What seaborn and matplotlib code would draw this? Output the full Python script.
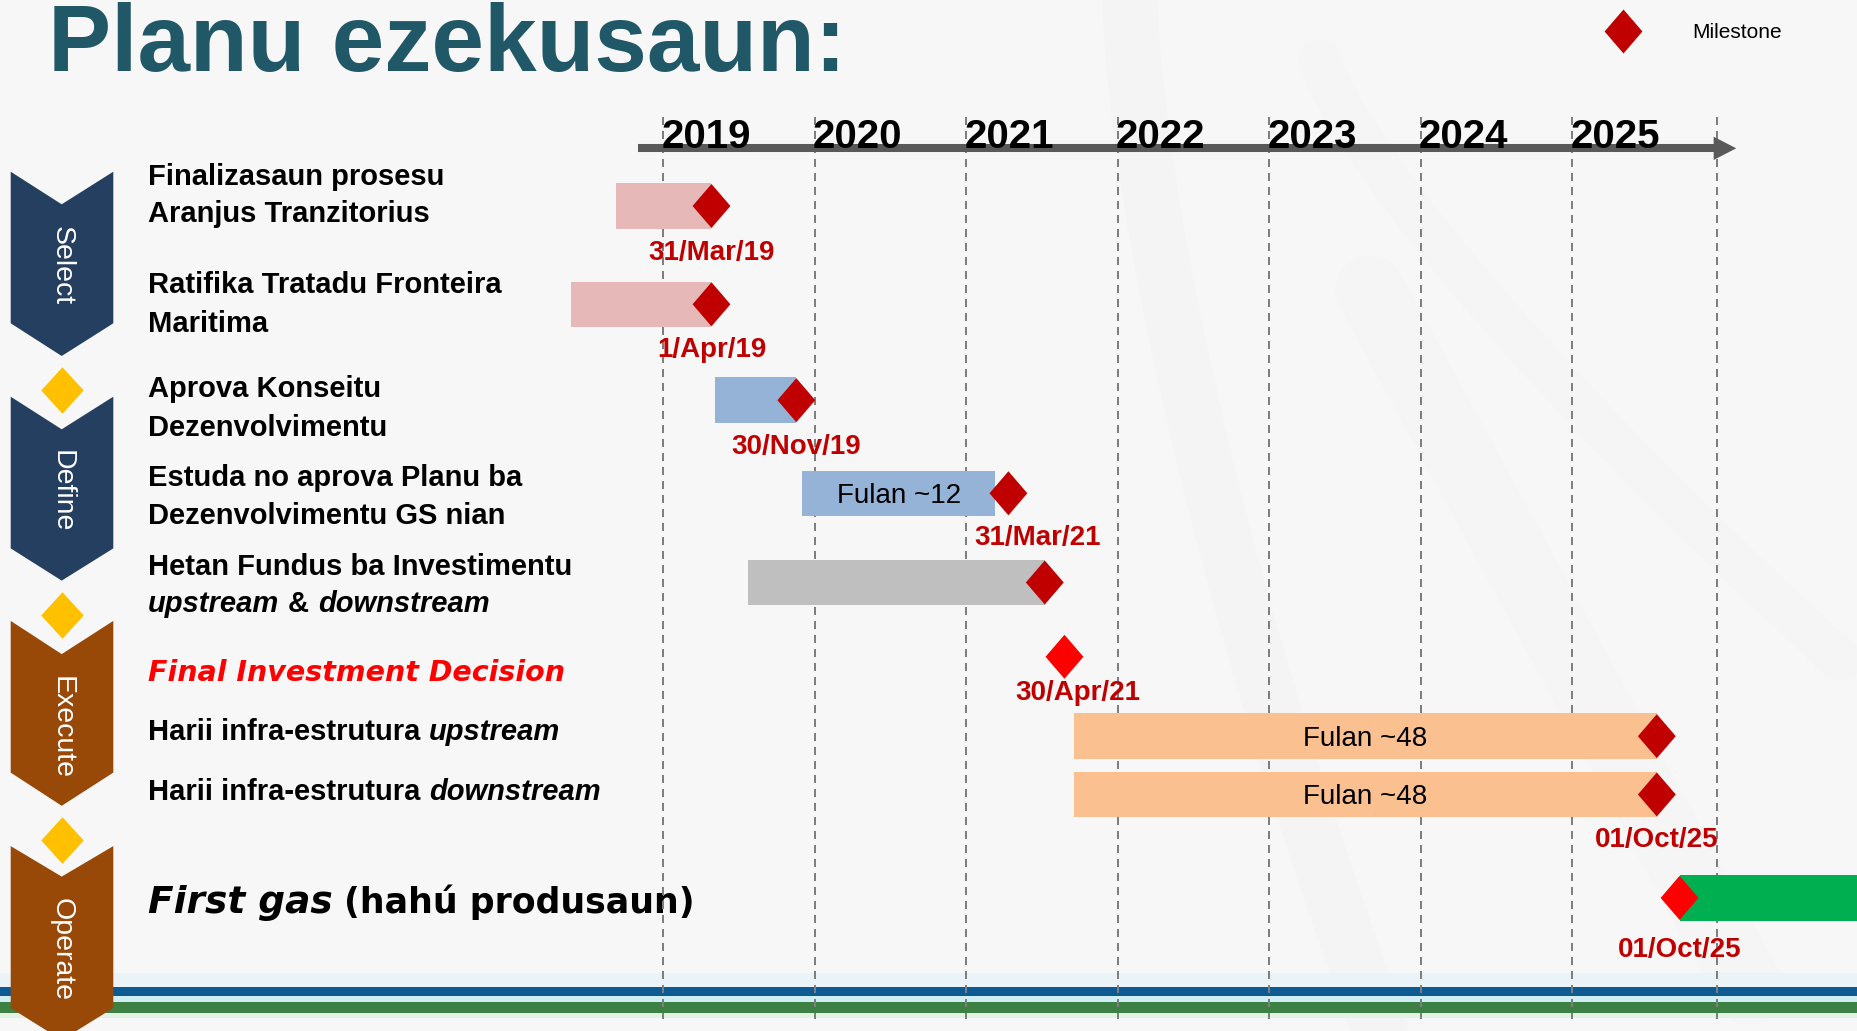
import numpy as np
import pandas as pd
import matplotlib
matplotlib.use("Agg")
import matplotlib.pyplot as plt
import seaborn as sns
from matplotlib.path import Path
from matplotlib.patches import Polygon, Rectangle


# Style and fonts
sns.set_theme(style="white")
plt.rcParams['font.family'] = ['Liberation Sans', 'DejaVu Sans']


# ---- data ----
title = "Planu ezekusaun:"
years = [2019, 2020, 2021, 2022, 2023, 2024, 2025]
timeline_end = 2025.955

phases = ["Select", "Define", "Execute", "Operate"]

task_start = [2018.69, 2018.39, 2019.34, 2019.92, 2019.56, np.nan, 2021.71, 2021.71, 2025.71]
task_end = [2019.32, 2019.32, 2019.88, 2021.19, 2021.52, np.nan, 2025.56, 2025.56, 2027.0]
milestone = [2019.32, 2019.32, 2019.88, 2021.28, 2021.52, 2021.65, 2025.56, 2025.56, 2025.71]
milestone_kind = ["Milestone"] * 5 + ["Key"] + ["Milestone"] * 2 + ["Key"]
bar_text = ["", "", "", "Fulan ~12", "", "", "Fulan ~48", "Fulan ~48", ""]
date_text = ["31/Mar/19", "1/Apr/19", "30/Nov/19", "31/Mar/21", "",
             "30/Apr/21", "", "01/Oct/25", "01/Oct/25"]

# task labels: lines of (text, style) pieces
B, BI, HI = "b", "bi", "hi"
task_lines = [
    [("Finalizasaun prosesu", B)],
    [("Aranjus Tranzitorius", B)],
    [("Ratifika Tratadu Fronteira", B)],
    [("Maritima", B)],
    [("Aprova Konseitu", B)],
    [("Dezenvolvimentu", B)],
    [("Estuda no aprova Planu ba", B)],
    [("Dezenvolvimentu GS nian", B)],
    [("Hetan Fundus ba Investimentu", B)],
    [("upstream", BI), ("&", B), ("downstream", BI)],
    [("Final Investment Decision", "fid")],
    [("Harii infra-estrutura", B), ("upstream", BI)],
    [("Harii infra-estrutura", B), ("downstream", BI)],
    [("First gas", HI), ("(hahú produsaun)", "big")],
]


# ---- layout (pixels of the 1857x1031 slide) ----
W, H = 1857, 1031
row_y = [206, 304.3, 400.2, 493.3, 582.5, 656.8, 736.2, 794.5, 897.9]
date_y = [260, 357, 454, 545, None, 700.5, None, 847, 957]
date_dx = [0, 0, 0, 0.19, 0, 0.09, 0, 0, 0]
line_y = [185, 221.7, 293.3, 331.7, 397.3, 435.7, 486, 524.4, 575.2, 611.5,
          681.2, 740.4, 799.7, 913.3]
task_colors = ["#E6B9B8", "#E6B9B8", "#95B3D7", "#95B3D7", "#BFBFBF", "none",
               "#FAC090", "#FAC090", "#00B050"]
# chevron: top corners, notch, side end, tip, text centre
chevrons = [(171.7, 204.3, 323.3, 356, 265.5),
            (396.7, 429.3, 548.4, 580.6, 491),
            (620.9, 654.1, 772.6, 805.8, 727.6),
            (846.1, 876.6, 1008, 1040, 949.5)]
phase_colors = ["#243F60", "#243F60", "#984807", "#984807"]
gate_y = [390, 615, 839.8]

px_per_year = 151.5
x0_year = 2019 - 663 / px_per_year
x1_year = x0_year + W / px_per_year

fig = plt.figure(figsize=(W / 100, H / 100), dpi=100, facecolor="#F7F7F7")

# decoration axes in pixel units
deco = fig.add_axes([0, 0, 1, 1])
deco.set_xlim(0, W)
deco.set_ylim(H, 0)
deco.set_axis_off()
deco.set_facecolor("#F7F7F7")

# faint background swooshes
tt = np.linspace(0, 1, 100)
deco.plot(1130 + 250 * tt ** 1.5, 0 + 1031 * tt, color="#F3F3F3", lw=40, alpha=0.5, zorder=0)
deco.plot(1320 + 520 * tt, 60 + 600 * tt ** 0.8, color="#F3F3F3", lw=30, alpha=0.4, zorder=0)
deco.plot(1370 + 380 * tt, 290 + 700 * tt, color="#F4F4F4", lw=50, alpha=0.4, zorder=0)

# bottom stripes
for y0, y1, c in [(973, 987, "#EAF4F8"), (987, 996, "#0E5A92"), (996, 1002, "#CFEFF5"),
                  (1002, 1013, "#3D8043"), (1013, 1018, "#E3F2E3")]:
    deco.add_patch(Rectangle((0, y0), W, y1 - y0, color=c, lw=0, zorder=1))

# title
deco.text(48, 71, title, fontsize=68, fontweight="bold", color="#215868",
          va="baseline", ha="left", zorder=3)

# phase chevrons
for (top, notch, side, tip, cy), name, c in zip(chevrons, phases, phase_colors):
    verts = [(10.7, top), (61.7, notch), (113.3, top), (113.3, side),
             (61.7, tip), (10.7, side)]
    deco.add_patch(Polygon(verts, closed=True, color=c, lw=0, zorder=3))
    deco.text(62, cy, name, rotation=270, ha="center", va="center",
              color="white", fontsize=20.5, zorder=4)

gate = Path([(0, 1), (0.914, 0), (0, -1), (-0.914, 0), (0, 1)])
deco.scatter([62] * len(gate_y), gate_y, marker=gate, s=1122, color="#FFC000",
             lw=0, zorder=4)

# task label text
renderer = fig.canvas.get_renderer()
styles = {
    "b": dict(fontsize=21, fontweight="bold"),
    "bi": dict(fontsize=21, fontweight="bold", fontstyle="italic"),
    "fid": dict(fontsize=20.5, fontweight="bold", fontstyle="italic",
                family=["DejaVu Sans"], color="#FF0000"),
    "hi": dict(fontsize=27, fontweight="bold", fontstyle="italic", family=["DejaVu Sans"]),
    "big": dict(fontsize=25, fontweight="bold", family=["DejaVu Sans"]),
}
for pieces, y in zip(task_lines, line_y):
    x = 148
    for s, st in pieces:
        kw = dict(color="black")
        kw.update(styles[st])
        t = deco.text(x, y, s, va="baseline", ha="left", zorder=3, **kw)
        bb = t.get_window_extent(renderer=renderer)
        x = bb.x1 + 0.3 * kw["fontsize"] * 100 / 72

# milestone legend
milestone_mark = Path([(0, 1), (0.86, 0), (0, -1), (-0.86, 0), (0, 1)])
deco.scatter([1622.6], [30.5], marker=milestone_mark, s=1005, color="#C00000", lw=0, zorder=4)
deco.text(1692, 38.3, "Milestone", fontsize=15, color="black", va="baseline", zorder=4)


# ---- gantt axes (x in years) ----
ax = fig.add_axes([0, 0, 1, 1])
ax.patch.set_alpha(0)

grid_x = years + [timeline_end]
ax.vlines(grid_x, 117, 1019, colors="#7F7F7F", linestyles=(0, (4, 3)), lw=1.44, zorder=1)

# timeline arrow
head0 = timeline_end - 0.02
ax.plot([2018.832, head0], [148.3, 148.3], color="#595959", lw=5.8,
        solid_capstyle="butt", zorder=2)
ax.add_patch(Polygon([(head0, 136.7), (head0 + 0.149, 148.3), (head0, 160)],
                     closed=True, color="#595959", lw=0, zorder=2))
for yr in years:
    ax.text(yr - 0.01, 148.5, str(yr), fontsize=29, fontweight="bold",
            color="black", ha="left", va="baseline", zorder=3)

# bars
starts = np.array(task_start)
ends = np.array(task_end)
ok = ~np.isnan(starts)
ax.barh(np.array(row_y)[ok], (ends - starts)[ok], left=starts[ok], height=45.5,
        color=np.array(task_colors)[ok], edgecolor="none", zorder=3)
for s, e, y, txt in zip(task_start, task_end, row_y, bar_text):
    if txt:
        ax.text((s + e) / 2, y + 10, txt, fontsize=20, ha="center",
                va="baseline", color="black", zorder=4)

# milestones
df = pd.DataFrame({"x": milestone, "y": row_y, "kind": milestone_kind})
sns.scatterplot(data=df, x="x", y="y", hue="kind",
                palette={"Milestone": "#C00000", "Key": "#FF0000"},
                marker=milestone_mark, s=1005, linewidth=0, legend=False,
                ax=ax, zorder=5)
for m, dx, yb, txt in zip(milestone, date_dx, date_y, date_text):
    if txt:
        ax.text(m + dx, yb, txt, fontsize=20, fontweight="bold", color="#C00000",
                ha="center", va="baseline", zorder=6)

ax.set_xlim(x0_year, x1_year)
ax.set_ylim(H, 0)
ax.set_axis_off()

fig.savefig("out.png", dpi=100, facecolor=fig.get_facecolor())
